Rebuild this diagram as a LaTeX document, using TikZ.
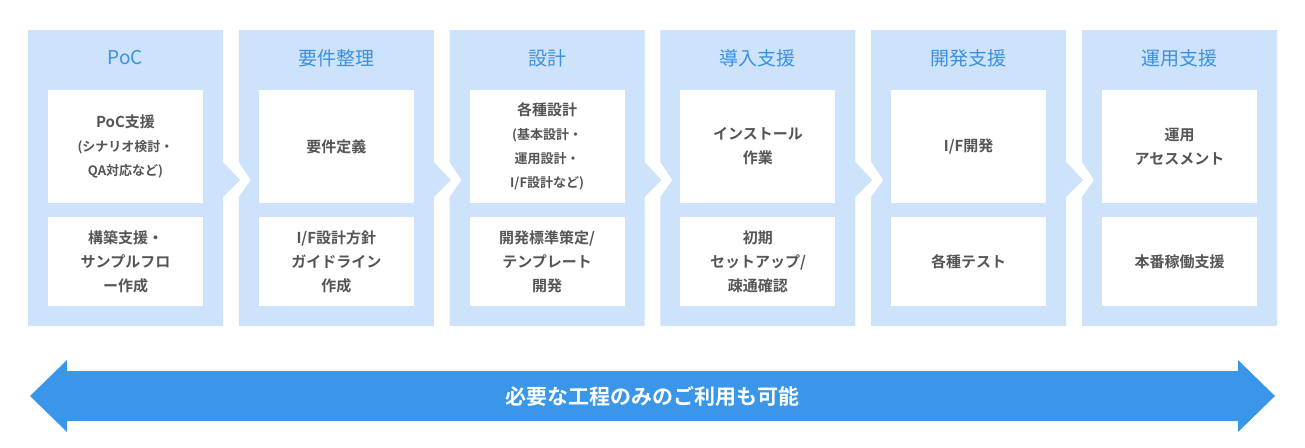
\documentclass[tikz,border=0pt]{standalone}
\usepackage{fontspec}
\newfontfamily\jpfont{Noto Sans CJK JP}
\newfontfamily\jpbold{Noto Sans CJK JP Bold}
\definecolor{colbg}{HTML}{CCE3FB}
\definecolor{titleblue}{HTML}{3D8FE0}
\definecolor{arrowblue}{HTML}{3A96E8}
\definecolor{textgray}{HTML}{555555}
\tikzstyle{phase}=[fill=colbg, draw=none]
\tikzstyle{title}=[text=titleblue, font=\jpfont\fontsize{19}{22}\selectfont]
\tikzstyle{task}=[fill=white, minimum width=155pt, align=center, inner sep=0pt, text=textgray, font=\jpbold\fontsize{15}{24}\selectfont]
\usetikzlibrary{positioning,calc}
\begin{document}
\begin{tikzpicture}[x=1pt,y=-1pt]
\useasboundingbox (0,0) rectangle (1305,447);
% phase columns
\foreach \i in {0,...,5}{
  \pgfmathsetmacro{\xl}{28+210.8*\i}
  \ifnum\i=0
    \fill[phase] (\xl,30) -- ++(195,0) -- ++(0,132) -- ++(17,18) -- ++(-17,17) -- (\xl+195,326) -- (\xl,326) -- cycle;
  \else\ifnum\i=5
    \fill[phase] (\xl,30) -- ++(195,0) -- (\xl+195,326) -- (\xl,326) -- (\xl,197) -- (\xl+12,180) -- (\xl,162) -- cycle;
  \else
    \fill[phase] (\xl,30) -- ++(195,0) -- ++(0,132) -- ++(17,18) -- ++(-17,17) -- (\xl+195,326) -- (\xl,326) -- (\xl,197) -- (\xl+12,180) -- (\xl,162) -- cycle;
  \fi\fi
}
% titles and tasks
\foreach \i/\ttl/\upper/\lower in {
  0/PoC/{PoC支援\\{\fontsize{13}{22}\selectfont (シナリオ検討・}\\{\fontsize{13}{22}\selectfont QA対応など)}}/{構築支援・\\サンプルフロ\\ー作成},
  1/要件整理/{要件定義}/{I/F設計方針\\ガイドライン\\作成},
  2/設計/{各種設計\\{\fontsize{13}{22}\selectfont (基本設計・}\\{\fontsize{13}{22}\selectfont 運用設計・}\\{\fontsize{13}{22}\selectfont I/F設計など)}}/{開発標準策定/\\テンプレート\\開発},
  3/導入支援/{インストール\\作業}/{初期\\セットアップ/\\疎通確認},
  4/開発支援/{I/F開発}/{各種テスト},
  5/運用支援/{運用\\アセスメント}/{本番稼働支援}}{
  \pgfmathsetmacro{\xc}{28+210.8*\i+97.5}
  \node[title] (t\i) at (\xc,58) {\ttl};
  \node[task, minimum height=113pt] (u\i) at (\xc,146.5) {\upper};
  \node[task, minimum height=89pt] (l\i) at (\xc,261.5) {\lower};
}
% bottom double arrow
\fill[arrowblue] (30,396) -- (67,360) -- (67,371) -- (1238,371) -- (1238,360) -- (1275,396) -- (1238,432) -- (1238,421) -- (67,421) -- (67,432) -- cycle;
\node[text=white, font=\jpbold\fontsize{21}{24}\selectfont] (note) at (652,396) {必要な工程のみのご利用も可能};
\end{tikzpicture}
\end{document}
